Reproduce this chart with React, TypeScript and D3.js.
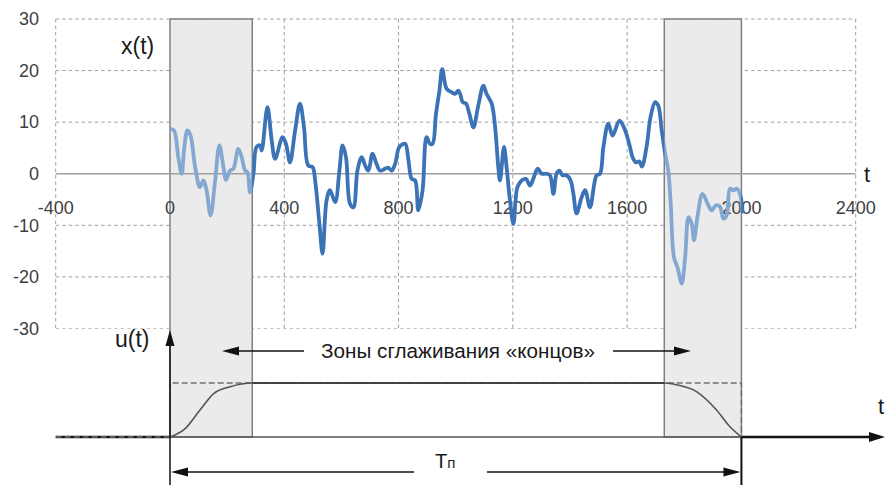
import React from "react";
import * as d3 from "d3";

const tValues = [0,14,29,41,49,61,72,88,105,117,128,142,158,173,187,196,210,222,239,251,263,271,280,292,303,315,321,341,356,368,394,406,420,438,455,469,484,499,508,523,534,548,560,578,593,604,616,630,642,656,671,683,694,709,721,735,753,764,776,788,803,823,834,846,858,869,884,898,910,919,931,943,953,968,986,998,1009,1017,1024,1036,1048,1062,1079,1097,1108,1126,1138,1149,1155,1169,1178,1190,1202,1216,1231,1246,1260,1274,1287,1301,1318,1330,1342,1353,1363,1374,1388,1402,1412,1423,1441,1453,1470,1493,1505,1517,1534,1549,1573,1593,1610,1619,1631,1643,1652,1668,1682,1698,1709,1721,1733,1744,1752,1764,1776,1791,1803,1815,1826,1834,1846,1864,1884,1896,1911,1925,1937,1948,1960,1972,1983,1995,2004];
const xValues = [8.7,8.4,3.2,0,4.5,8.4,7.4,1.3,-2.6,-1.3,-3.2,-8.1,-1.3,5.5,1.3,-1.2,0.6,1.0,4.8,3.2,0.6,0.3,-3.6,0,5.2,5.5,4.5,12.9,6.5,2.9,7.1,5.8,2.2,8.4,13.6,9.0,1.6,1.3,-1.3,-9.7,-15.5,-5.2,-3.2,-5.5,0.6,5.5,3.2,-5.8,-6.5,0.6,3.2,1.6,0.6,3.9,2.2,0.6,1.0,1.2,0.6,1.9,5.2,5.8,2.9,-1.0,-1.3,-7.1,-3.2,7.1,5.8,5.8,11.6,16.1,20.3,16.5,15.8,15.5,16.1,15.2,13.9,13.6,11.6,9.0,13.2,17.1,15.5,13.6,9.0,1.3,-1.3,5.2,1.3,-5.2,-9.7,-2.6,-1.3,-1.0,-2.3,-0.6,1.0,0,0,-0.3,-3.9,0,0.6,-0.3,-0.3,-1.3,-3.9,-7.7,-4.5,-3.2,-6.5,-0.3,0,5.2,9.7,7.4,10.3,8.4,5.2,3.2,2.2,2.4,1.4,5.2,11.0,13.9,13.2,8.4,3.9,0.6,-5.2,-16.2,-18.1,-21.3,-16.2,-8.4,-9.7,-12.9,-8.4,-3.9,-6.1,-7.1,-6.1,-6.4,-8.7,-8.1,-2.9,-3.2,-2.9,-3.9,-7.7];

const windowT = [0,50,105,152,210,288,1727,1762,1843,1913,1960,2000];
const windowU = [0,0.14,0.5,0.8,0.93,1,1,0.98,0.84,0.5,0.19,0];

const xTicks = [-400,0,400,800,1200,1600,2000,2400];
const yTicks = [30,20,10,0,-10,-20,-30];
const zones = [[0,288],[1730,2000]];
const zoneLabel = "Зоны сглаживания «концов»";

export default function App() {
  const x = d3.scaleLinear().domain([-400, 2400]).range([55.7, 855.7]);
  const y = d3.scaleLinear().domain([-30, 30]).range([328.5, 19]);
  const u = d3.scaleLinear().domain([0, 1]).range([437, 383]);

  const pts = tValues.map((t, i) => [t, xValues[i]] as [number, number]);
  const line = d3.line<[number, number]>().x(d => x(d[0])).y(d => y(d[1])).curve(d3.curveCatmullRom.alpha(0.5));
  const wpts = windowT.map((t, i) => [t, windowU[i]] as [number, number]);
  const wline = d3.line<[number, number]>().x(d => x(d[0])).y(d => u(d[1])).curve(d3.curveMonotoneX);

  const dark = "#3b73b6";
  const light = "#84a8d2";
  const grid = "#a0a0a0";
  const font = "'Liberation Sans', Arial, sans-serif";
  const x0 = x(0), x2000 = x(2000);
  const yTop = y(30), yBase = u(0), yOne = u(1);

  const arrowHead = (tipX: number, tipY: number, dir: number, len = 16, w = 4.5) =>
    `M${tipX},${tipY}L${tipX - dir * len},${tipY - w}L${tipX - dir * len},${tipY + w}Z`;

  return (
    <svg width={885} height={485} style={{ position: "absolute", left: 0, top: 0, background: "#fff" }} fontFamily={font}>
      <defs>
        <clipPath id="zonesClip">
          {zones.map((z, i) => <rect key={i} x={x(z[0])} y={0} width={x(z[1]) - x(z[0])} height={485} />)}
        </clipPath>
        <clipPath id="outerClip">
          <rect x={x(zones[0][1])} y={0} width={x(zones[1][0]) - x(zones[0][1])} height={485} />
          <rect x={x(zones[1][1])} y={0} width={200} height={485} />
        </clipPath>
      </defs>

      {/* gridlines */}
      {yTicks.filter(v => v !== 0).map(v => (
        <line key={"gy" + v} x1={x(-400)} x2={x(2400)} y1={y(v)} y2={y(v)} stroke={v === -30 ? "#c4c4c4" : grid} strokeWidth={1} strokeDasharray="3.5,3" />
      ))}
      {xTicks.filter(v => v !== 0 && v !== 2000).map(v => (
        <line key={"gx" + v} x1={x(v)} x2={x(v)} y1={yTop} y2={y(-30)} stroke={grid} strokeWidth={1} strokeDasharray="3.5,3" />
      ))}

      {/* shaded zones */}
      {zones.map((z, i) => (
        <rect key={"z" + i} x={x(z[0])} y={yTop} width={x(z[1]) - x(z[0])} height={yBase - yTop} fill="#ebebeb" stroke="#808080" strokeWidth={1.5} />
      ))}

      {/* zero axis */}
      <line x1={x(-400)} x2={x(2400)} y1={y(0)} y2={y(0)} stroke="#a0a0a0" strokeWidth={1.5} />

      {/* tick labels */}
      {yTicks.map(v => (
        <text key={"ty" + v} x={39} y={y(v)} dy="0.35em" textAnchor="end" fontSize={18} fill="#404040">{v}</text>
      ))}
      {xTicks.map(v => (
        <text key={"tx" + v} x={x(v)} y={214} textAnchor="middle" fontSize={18} fill="#404040">{v}</text>
      ))}

      {/* signal */}
      <path d={line(pts) || ""} fill="none" stroke={light} strokeWidth={3.8} clipPath="url(#zonesClip)" strokeLinejoin="round" />
      <path d={line(pts) || ""} fill="none" stroke={dark} strokeWidth={3.8} clipPath="url(#outerClip)" strokeLinejoin="round" />

      <text x={121} y={54} fontSize={23} fill="#1a1a1a">x(t)</text>
      <text x={864} y={182} fontSize={22} fill="#1a1a1a">t</text>

      {/* bottom diagram */}
      <line x1={x0} x2={x2000} y1={yBase} y2={yBase} stroke="#555" strokeWidth={1.5} />
      <line x1={x(-400)} x2={x0} y1={yBase} y2={yBase} stroke="#111" strokeWidth={2.5} />
      <line x1={x2000} x2={870} y1={yBase} y2={yBase} stroke="#111" strokeWidth={2.5} />
      <path d={arrowHead(885, yBase, 1, 16, 5)} fill="#111" />
      <path d={`M${x(-400)},${yBase}L${x0},${yBase}L${x0},${yOne}L${x2000},${yOne}L${x2000},${yBase}`} fill="none" stroke="#707070" strokeWidth={1.5} strokeDasharray="6,3" />
      <path d={wline(wpts) || ""} fill="none" stroke="#555" strokeWidth={1.6} />
      <line x1={x(zones[0][1])} x2={x(zones[1][0])} y1={yOne} y2={yOne} stroke="#333" strokeWidth={1.6} />

      {/* vertical axis u(t) */}
      <line x1={x0} x2={x0} y1={485} y2={340} stroke="#111" strokeWidth={1.5} />
      <path d={`M${x0},330L${x0 - 4.5},346L${x0 + 4.5},346Z`} fill="#111" />
      <line x1={x2000} x2={x2000} y1={yBase} y2={485} stroke="#111" strokeWidth={2} />
      <text x={115} y={347} fontSize={23} fill="#1a1a1a">u(t)</text>
      <text x={878} y={414} fontSize={22} fill="#1a1a1a">t</text>

      {/* zone arrows */}
      <line x1={238} x2={304} y1={351} y2={351} stroke="#111" strokeWidth={1.5} />
      <path d={arrowHead(222, 351, -1, 17, 4.5)} fill="#111" />
      <line x1={613} x2={675} y1={351} y2={351} stroke="#111" strokeWidth={1.5} />
      <path d={arrowHead(691, 351, 1, 17, 4.5)} fill="#111" />
      <text x={321} y={358} fontSize={20} fill="#1a1a1a" textLength={274} lengthAdjust="spacingAndGlyphs">{zoneLabel}</text>

      {/* Tп arrows */}
      <line x1={x0 + 16} x2={414} y1={472} y2={472} stroke="#111" strokeWidth={1.5} />
      <path d={arrowHead(x0 + 1, 472, -1, 17, 4.5)} fill="#111" />
      <line x1={487} x2={x2000 - 16} y1={472} y2={472} stroke="#111" strokeWidth={1.5} />
      <path d={arrowHead(x2000 - 1, 472, 1, 17, 4.5)} fill="#111" />
      <text x={435} y={468} fontSize={20} fill="#1a1a1a">T<tspan fontSize={15}>п</tspan></text>
    </svg>
  );
}
